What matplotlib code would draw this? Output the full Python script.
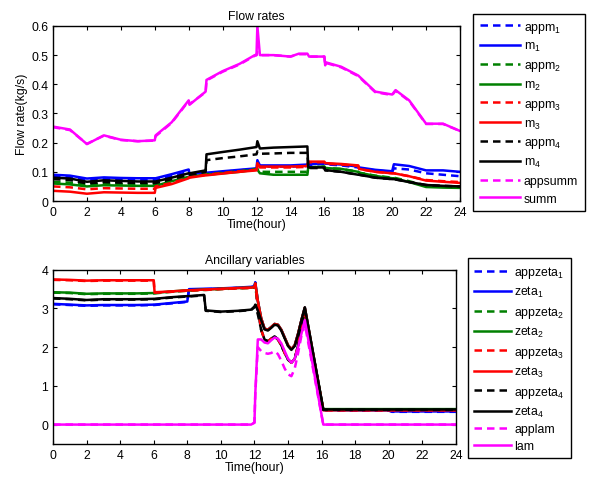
import matplotlib
matplotlib.use("Agg")
import matplotlib.pyplot as plt

plt.rcParams['font.family'] = ['Liberation Sans', 'DejaVu Sans']
plt.rcParams['font.size'] = 8.8
plt.rcParams['mathtext.default'] = 'regular'

BLUE = (0, 0, 1)
GREEN = (0, 0.5, 0)
RED = (1, 0, 0)
BLACK = (0, 0, 0)
MAG = (1, 0, 1)

# ---------------- flow rates (top) ----------------
t_sum = [0, 1, 2, 3, 4, 5, 6, 6.05, 7, 8, 8.05, 9, 9.05, 10, 11, 11.9, 12, 12.05, 12.2, 13,
         14, 14.5, 15, 15.1, 16, 16.05, 16.1, 17, 18, 19, 20, 20.2, 21, 22, 23, 24]
summ = [0.255, 0.245, 0.195, 0.225, 0.21, 0.205, 0.208, 0.225, 0.27, 0.345,
        0.33, 0.375, 0.415, 0.445, 0.47, 0.5, 0.5, 0.6, 0.5, 0.5,
        0.495, 0.505, 0.505, 0.495, 0.495, 0.465, 0.475, 0.46, 0.43, 0.375,
        0.365, 0.38, 0.345, 0.265, 0.265, 0.24]
appsumm = [0.253, 0.243, 0.196, 0.224, 0.209, 0.205, 0.207, 0.222, 0.268, 0.343,
           0.332, 0.373, 0.413, 0.443, 0.468, 0.498, 0.5, 0.51, 0.5, 0.5,
           0.495, 0.503, 0.503, 0.495, 0.495, 0.468, 0.473, 0.458, 0.428, 0.373,
           0.363, 0.378, 0.343, 0.264, 0.264, 0.24]

t_m = [0, 1, 2, 3, 4, 5, 6, 6.05, 7, 8, 8.05, 9, 9.05, 10, 11, 12, 12.05, 12.2, 13, 14,
       15, 15.05, 16, 16.05, 17, 18, 18.05, 19, 20, 20.1, 21, 22, 23, 24]
m1 = [0.09, 0.087, 0.077, 0.081, 0.079, 0.078, 0.078, 0.078, 0.092, 0.108,
      0.092, 0.097, 0.097, 0.102, 0.107, 0.112, 0.14, 0.122, 0.122, 0.122,
      0.125, 0.125, 0.13, 0.128, 0.125, 0.118, 0.115, 0.107, 0.102, 0.126,
      0.12, 0.105, 0.105, 0.1]
appm1 = [0.085, 0.082, 0.072, 0.076, 0.074, 0.073, 0.073, 0.073, 0.085, 0.1,
         0.09, 0.095, 0.095, 0.1, 0.105, 0.11, 0.13, 0.118, 0.118, 0.118,
         0.12, 0.122, 0.128, 0.126, 0.122, 0.115, 0.112, 0.105, 0.1, 0.112,
         0.108, 0.095, 0.09, 0.085]
m2 = [0.06, 0.057, 0.05, 0.054, 0.053, 0.052, 0.052, 0.052, 0.068, 0.083,
      0.083, 0.09, 0.09, 0.095, 0.1, 0.108, 0.108, 0.095, 0.09, 0.09,
      0.09, 0.115, 0.118, 0.113, 0.11, 0.1, 0.097, 0.086, 0.078, 0.078,
      0.065, 0.048, 0.046, 0.045]
appm2 = [0.066, 0.063, 0.056, 0.06, 0.058, 0.057, 0.057, 0.057, 0.07, 0.085,
         0.085, 0.092, 0.092, 0.097, 0.102, 0.11, 0.11, 0.1, 0.1, 0.1,
         0.1, 0.115, 0.118, 0.113, 0.11, 0.1, 0.097, 0.087, 0.08, 0.08,
         0.068, 0.052, 0.05, 0.049]
m3 = [0.035, 0.032, 0.025, 0.03, 0.029, 0.028, 0.028, 0.045, 0.058, 0.078,
      0.08, 0.088, 0.088, 0.094, 0.1, 0.105, 0.13, 0.118, 0.118, 0.118,
      0.12, 0.135, 0.135, 0.13, 0.127, 0.122, 0.11, 0.1, 0.095, 0.095,
      0.085, 0.07, 0.066, 0.062]
appm3 = [0.05, 0.047, 0.04, 0.044, 0.043, 0.042, 0.042, 0.05, 0.062, 0.08,
         0.082, 0.09, 0.09, 0.096, 0.102, 0.107, 0.12, 0.115, 0.115, 0.115,
         0.117, 0.133, 0.133, 0.128, 0.125, 0.12, 0.11, 0.1, 0.095, 0.095,
         0.085, 0.072, 0.068, 0.065]
m4 = [0.08, 0.077, 0.066, 0.071, 0.069, 0.067, 0.067, 0.067, 0.08, 0.095,
      0.095, 0.105, 0.16, 0.168, 0.176, 0.185, 0.205, 0.18, 0.183, 0.185,
      0.187, 0.115, 0.115, 0.106, 0.1, 0.09, 0.09, 0.08, 0.075, 0.075,
      0.065, 0.055, 0.052, 0.05]
appm4 = [0.075, 0.072, 0.06, 0.065, 0.063, 0.062, 0.062, 0.062, 0.075, 0.09,
         0.09, 0.1, 0.14, 0.147, 0.153, 0.16, 0.17, 0.162, 0.163, 0.165,
         0.165, 0.113, 0.113, 0.105, 0.1, 0.09, 0.09, 0.08, 0.075, 0.075,
         0.065, 0.055, 0.052, 0.05]

# ---------------- ancillary variables (bottom) ----------------
t_z = [0, 1, 2, 3, 4, 5, 6, 6.05, 7, 8, 8.1, 9, 9.1, 10, 11, 11.8, 12, 12.05, 12.2, 12.4,
       12.6, 12.8, 13, 13.2, 13.4, 13.6, 13.8, 14, 14.2, 14.4, 14.6, 14.8, 15, 16.1, 18, 20,
       20.2, 22, 24]
zeta1 = [3.12, 3.1, 3.08, 3.09, 3.09, 3.09, 3.1, 3.1, 3.14, 3.18, 3.5, 3.51, 3.51, 3.52,
         3.54, 3.56, 3.58, 3.68, 3.2, 2.75, 2.48, 2.45, 2.52, 2.6, 2.58, 2.45, 2.25, 2.05,
         1.95, 2.05, 2.35, 2.7, 3.02, 0.38, 0.37, 0.37, 0.34, 0.34, 0.34]
appzeta1 = [3.11, 3.09, 3.07, 3.08, 3.08, 3.08, 3.09, 3.09, 3.13, 3.17, 3.49, 3.5, 3.5, 3.51,
            3.53, 3.55, 3.57, 3.66, 3.0, 2.45, 2.2, 2.15, 2.22, 2.28, 2.2, 2.05, 1.85, 1.68,
            1.6, 1.7, 2.05, 2.55, 2.95, 0.37, 0.36, 0.36, 0.33, 0.33, 0.33]
zeta2 = [3.42, 3.41, 3.38, 3.39, 3.39, 3.39, 3.4, 3.4, 3.44, 3.47, 3.47, 3.49, 3.49, 3.51,
         3.53, 3.54, 3.55, 3.65, 3.2, 2.75, 2.48, 2.45, 2.52, 2.6, 2.58, 2.45, 2.25, 2.05,
         1.95, 2.05, 2.35, 2.7, 3.02, 0.4, 0.4, 0.4, 0.4, 0.4, 0.4]
appzeta2 = [3.41, 3.4, 3.37, 3.38, 3.38, 3.38, 3.39, 3.39, 3.43, 3.46, 3.46, 3.48, 3.48, 3.5,
            3.52, 3.53, 3.54, 3.63, 3.0, 2.45, 2.2, 2.15, 2.22, 2.28, 2.2, 2.05, 1.85, 1.68,
            1.6, 1.7, 2.05, 2.55, 2.95, 0.39, 0.39, 0.39, 0.39, 0.39, 0.39]
zeta3 = [3.75, 3.74, 3.72, 3.73, 3.73, 3.73, 3.73, 3.42, 3.44, 3.47, 3.47, 3.49, 3.49, 3.51,
         3.53, 3.54, 3.55, 3.65, 3.2, 2.75, 2.48, 2.45, 2.52, 2.6, 2.58, 2.45, 2.25, 2.05,
         1.95, 2.05, 2.35, 2.7, 3.02, 0.37, 0.37, 0.37, 0.37, 0.37, 0.37]
appzeta3 = [3.74, 3.73, 3.71, 3.72, 3.72, 3.72, 3.72, 3.41, 3.43, 3.46, 3.46, 3.48, 3.48, 3.5,
            3.52, 3.53, 3.54, 3.63, 3.0, 2.45, 2.2, 2.15, 2.22, 2.28, 2.2, 2.05, 1.85, 1.68,
            1.6, 1.7, 2.05, 2.55, 2.95, 0.37, 0.37, 0.37, 0.37, 0.37, 0.37]
zeta4 = [3.27, 3.25, 3.22, 3.24, 3.24, 3.24, 3.25, 3.25, 3.29, 3.32, 3.32, 3.35, 2.95, 2.92,
         2.94, 2.97, 3.05, 3.1, 2.95, 2.7, 2.46, 2.43, 2.5, 2.58, 2.56, 2.43, 2.23, 2.03,
         1.93, 2.03, 2.33, 2.7, 3.03, 0.39, 0.39, 0.39, 0.39, 0.39, 0.39]
appzeta4 = [3.26, 3.24, 3.21, 3.23, 3.23, 3.23, 3.24, 3.24, 3.28, 3.31, 3.31, 3.34, 2.94, 2.91,
            2.93, 2.96, 3.03, 3.07, 2.85, 2.45, 2.2, 2.15, 2.22, 2.28, 2.2, 2.05, 1.85, 1.68,
            1.6, 1.7, 2.05, 2.55, 2.95, 0.38, 0.38, 0.38, 0.38, 0.38, 0.38]
lam = [0, 0, 0, 0, 0, 0, 0, 0, 0, 0, 0, 0, 0, 0,
       0, 0, 0.05, 0.8, 2.2, 2.2, 2.12, 2.1, 2.18, 2.25, 2.22, 2.1, 1.9, 1.7,
       1.6, 1.7, 2.0, 2.35, 2.7, 0, 0, 0, 0, 0, 0]
applam = [0, 0, 0, 0, 0, 0, 0, 0, 0, 0, 0, 0, 0, 0,
          0, 0, 0.05, 0.8, 2.0, 1.9, 1.85, 1.83, 1.85, 1.9, 1.82, 1.65, 1.45, 1.3,
          1.25, 1.45, 1.85, 2.3, 2.6, 0, 0, 0, 0, 0, 0]


def matlab_axes(ax):
	ax.tick_params(direction='in', top=True, right=True, length=3, width=0.8, labelsize=8.8)
	for s in ax.spines.values():
		s.set_linewidth(1.0)


fig = plt.figure(figsize=(5.89, 4.81), dpi=100)
lw = 1.8

# top panel
ax1 = fig.add_axes([0.09, 0.58, 0.691, 0.364])
top_series = [
	(t_m, appm1, BLUE, '--', r'appm$_1$'),
	(t_m, m1, BLUE, '-', r'm$_1$'),
	(t_m, appm2, GREEN, '--', r'appm$_2$'),
	(t_m, m2, GREEN, '-', r'm$_2$'),
	(t_m, appm3, RED, '--', r'appm$_3$'),
	(t_m, m3, RED, '-', r'm$_3$'),
	(t_m, appm4, BLACK, '--', r'appm$_4$'),
	(t_m, m4, BLACK, '-', r'm$_4$'),
	(t_sum, appsumm, MAG, '--', 'appsumm'),
	(t_sum, summ, MAG, '-', 'summ'),
]
for t, y, c, ls, lab in top_series:
	ax1.plot(t, y, color=c, ls=ls, lw=lw, label=lab, dashes=(3, 2) if ls == '--' else (None, None))
ax1.set_xlim(0, 24)
ax1.set_ylim(0, 0.6)
ax1.set_xticks(range(0, 25, 2))
ax1.set_yticks([0, 0.1, 0.2, 0.3, 0.4, 0.5, 0.6])
ax1.set_yticklabels(['0', '0.1', '0.2', '0.3', '0.4', '0.5', '0.6'])
ax1.set_title('Flow rates', fontsize=8.8, pad=5)
ax1.set_xlabel('Time(hour)', labelpad=0)
ax1.set_ylabel('Flow rate(kg/s)', labelpad=2)
matlab_axes(ax1)
leg1 = ax1.legend(loc='upper left', bbox_to_anchor=(1.032, 1.069), borderaxespad=0,
	handlelength=3.3, labelspacing=0.47, borderpad=0.55, handletextpad=0.3, fancybox=False,
	edgecolor='black', fontsize=8.8, framealpha=1)
leg1.get_frame().set_linewidth(1.0)

# bottom panel
ax2 = fig.add_axes([0.09, 0.075, 0.684, 0.362])
bot_series = [
	(appzeta1, BLUE, '--', r'appzeta$_1$'),
	(zeta1, BLUE, '-', r'zeta$_1$'),
	(appzeta2, GREEN, '--', r'appzeta$_2$'),
	(zeta2, GREEN, '-', r'zeta$_2$'),
	(appzeta3, RED, '--', r'appzeta$_3$'),
	(zeta3, RED, '-', r'zeta$_3$'),
	(appzeta4, BLACK, '--', r'appzeta$_4$'),
	(zeta4, BLACK, '-', r'zeta$_4$'),
	(applam, MAG, '--', 'applam'),
	(lam, MAG, '-', 'lam'),
]
for y, c, ls, lab in bot_series:
	ax2.plot(t_z, y, color=c, ls=ls, lw=lw, label=lab, dashes=(3, 2) if ls == '--' else (None, None))
ax2.set_xlim(0, 24)
ax2.set_ylim(-0.5, 4)
ax2.set_xticks(range(0, 25, 2))
ax2.set_yticks([0, 1, 2, 3, 4])
ax2.set_title('Ancillary variables', fontsize=8.8, pad=5)
ax2.set_xlabel('Time(hour)', labelpad=0)
matlab_axes(ax2)
leg2 = ax2.legend(loc='upper left', bbox_to_anchor=(1.03, 1.069), borderaxespad=0,
	handlelength=3.0, labelspacing=0.36, borderpad=0.5, handletextpad=0.3, fancybox=False,
	edgecolor='black', fontsize=8.8, framealpha=1)
leg2.get_frame().set_linewidth(1.0)

fig.savefig('out.png', dpi=100)
